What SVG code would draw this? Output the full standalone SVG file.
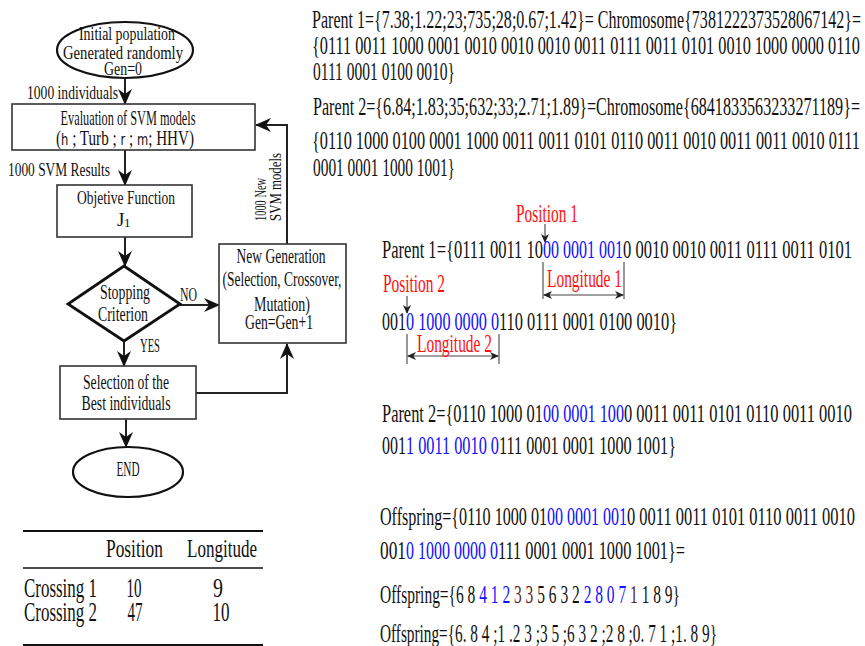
<svg xmlns="http://www.w3.org/2000/svg" width="865" height="646" viewBox="0 0 865 646">
<defs>
<style>
text{font-family:"Liberation Serif","DejaVu Serif",serif;fill:#111}
.fc{font-size:20px}
.fs{font-size:18px}
.big{font-size:26px}
.red{fill:#ff1010}
.blue{fill:#1010ff}
.brown{fill:#5c2424}
.sans{font-family:"DejaVu Sans","Liberation Sans",sans-serif;font-size:16px}
.box{fill:#fff;stroke:#333;stroke-width:1.6}
.ell{fill:#fff;stroke:#111;stroke-width:2.2}
.dia{fill:#fff;stroke:#111;stroke-width:2.8}
.con{fill:none;stroke:#222;stroke-width:2}
.thin{fill:none;stroke:#444;stroke-width:1.1}
.rule{stroke:#111}
</style>
<marker id="ah" markerUnits="userSpaceOnUse" markerWidth="16" markerHeight="14" refX="15" refY="7" orient="auto">
<path d="M0,0 L16,7 L0,14 L5,7 z" fill="#111"/>
</marker>
<marker id="sa" markerUnits="userSpaceOnUse" markerWidth="9" markerHeight="8" refX="8" refY="4" orient="auto-start-reverse">
<path d="M0,0 L9,4 L0,8 L2.5,4 z" fill="#222"/>
</marker>
</defs>
<rect width="865" height="646" fill="#fff"/>

<g id="connectors">
<line class="con" x1="125" y1="78" x2="125" y2="104" marker-end="url(#ah)"/>
<line class="con" x1="125" y1="150" x2="125" y2="185" marker-end="url(#ah)"/>
<line class="con" x1="125" y1="237" x2="125" y2="266" marker-end="url(#ah)"/>
<line class="con" x1="180" y1="305" x2="219" y2="305" marker-end="url(#ah)"/>
<polyline class="con" points="287,244 287,125 256,125" marker-end="url(#ah)"/>
<line class="con" x1="124" y1="341" x2="124" y2="366" marker-end="url(#ah)"/>
<polyline class="con" points="196,393 287,393 287,344" marker-end="url(#ah)"/>
<line class="con" x1="126" y1="419" x2="126" y2="447" marker-end="url(#ah)"/>
<text class="fs" x="27" y="99" textLength="91" lengthAdjust="spacingAndGlyphs">1000 individuals</text>
<text class="fs" x="8" y="176" textLength="102" lengthAdjust="spacingAndGlyphs">1000 SVM Results</text>
<text class="fs" x="180" y="301" textLength="17" lengthAdjust="spacingAndGlyphs">NO</text>
<text class="fs" x="140" y="352" textLength="20" lengthAdjust="spacingAndGlyphs">YES</text>
<text style="font-size:17px" transform="translate(266,221) rotate(-90)" textLength="43" lengthAdjust="spacingAndGlyphs">1000 New</text>
<text style="font-size:17px" transform="translate(281,221) rotate(-90)" textLength="68" lengthAdjust="spacingAndGlyphs">SVM models</text>
</g>

<g id="start">
<ellipse class="ell" cx="125" cy="50" rx="68" ry="28"/>
<text class="fs" x="127" y="40" text-anchor="middle" textLength="96" lengthAdjust="spacingAndGlyphs">Initial population</text>
<text class="fs" x="123" y="59" text-anchor="middle" textLength="120" lengthAdjust="spacingAndGlyphs">Generated randomly</text>
<text class="fs" x="123" y="75" text-anchor="middle" textLength="38" lengthAdjust="spacingAndGlyphs">Gen=0</text>
</g>

<g id="evaluation">
<rect class="box" x="12" y="104" width="243" height="46"/>
<text style="font-size:21px" x="128" y="125" text-anchor="middle" textLength="135" lengthAdjust="spacingAndGlyphs">Evaluation of SVM models</text>
<text style="font-size:21px" x="125" y="145" text-anchor="middle" textLength="138" lengthAdjust="spacingAndGlyphs">(<tspan class="sans">h</tspan> ; Turb ; <tspan class="sans">r</tspan> ; <tspan class="sans">m</tspan>; HHV)</text>
</g>

<g id="objective">
<rect class="box" x="57" y="185" width="135" height="52"/>
<text class="fs" x="126" y="204" text-anchor="middle" textLength="98" lengthAdjust="spacingAndGlyphs">Objetive Function</text>
<text x="117" y="226" style="font-size:19px">J</text>
<text x="124" y="227" style="font-size:13px">1</text>
</g>

<g id="stopping">
<polygon class="dia" points="124,266 180,304 124,341 68,304"/>
<text class="fc" x="125" y="299" text-anchor="middle" textLength="50" lengthAdjust="spacingAndGlyphs">Stopping</text>
<text class="fc" x="123" y="321" text-anchor="middle" textLength="50" lengthAdjust="spacingAndGlyphs">Criterion</text>
</g>

<g id="newgen">
<rect class="box" x="219" y="244" width="127" height="99"/>
<text style="font-size:21px" x="281" y="263" text-anchor="middle" textLength="89" lengthAdjust="spacingAndGlyphs">New Generation</text>
<text style="font-size:21px" x="282" y="286" text-anchor="middle" textLength="119" lengthAdjust="spacingAndGlyphs">(Selection, Crossover,</text>
<text style="font-size:21px" x="282" y="311" text-anchor="middle" textLength="56" lengthAdjust="spacingAndGlyphs">Mutation)</text>
<text style="font-size:21px" x="279" y="329" text-anchor="middle" textLength="68" lengthAdjust="spacingAndGlyphs">Gen=Gen+1</text>
</g>

<g id="selection">
<rect class="box" x="60" y="366" width="136" height="53"/>
<text class="fc" x="126" y="389" text-anchor="middle" textLength="86" lengthAdjust="spacingAndGlyphs">Selection of the</text>
<text class="fc" x="126" y="410" text-anchor="middle" textLength="89" lengthAdjust="spacingAndGlyphs">Best individuals</text>
</g>

<g id="end">
<ellipse class="ell" cx="128" cy="472" rx="55" ry="25"/>
<text class="fc" x="128" y="476" text-anchor="middle" textLength="23" lengthAdjust="spacingAndGlyphs">END</text>
</g>

<g id="table">
<line class="rule" x1="23" y1="531" x2="263" y2="531" stroke-width="2"/>
<line class="rule" x1="23" y1="568" x2="263" y2="568" stroke-width="1.3"/>
<line class="rule" x1="23" y1="645" x2="263" y2="645" stroke-width="2"/>
<text style="font-size:25px" x="134.5" y="557" text-anchor="middle" textLength="57" lengthAdjust="spacingAndGlyphs">Position</text>
<text style="font-size:25px" x="222" y="557" text-anchor="middle" textLength="70" lengthAdjust="spacingAndGlyphs">Longitude</text>
<text style="font-size:28px" x="24" y="597" textLength="73" lengthAdjust="spacingAndGlyphs">Crossing 1</text>
<text style="font-size:28px" x="134" y="597" text-anchor="middle" textLength="15" lengthAdjust="spacingAndGlyphs">10</text>
<text style="font-size:28px" x="218" y="597" text-anchor="middle" textLength="10" lengthAdjust="spacingAndGlyphs">9</text>
<text style="font-size:28px" x="24" y="621" textLength="73" lengthAdjust="spacingAndGlyphs">Crossing 2</text>
<text style="font-size:28px" x="135" y="621" text-anchor="middle" textLength="15" lengthAdjust="spacingAndGlyphs">47</text>
<text style="font-size:28px" x="221" y="621" text-anchor="middle" textLength="17" lengthAdjust="spacingAndGlyphs">10</text>
</g>

<g id="chromosomes">
<text class="big" x="312" y="28" textLength="549" lengthAdjust="spacingAndGlyphs">Parent 1={7.38;1.22;23;735;28;0.67;1.42}= Chromosome{7381222373528067142}=</text>
<text class="big" x="312" y="54" textLength="548" lengthAdjust="spacingAndGlyphs">{0111 0011 1000 0001 0010 0010 0010 0011 0111 0011 0101 0010 1000 0000 0110</text>
<text class="big" x="313" y="80" textLength="142" lengthAdjust="spacingAndGlyphs">0111 0001 0100 0010}</text>
<text class="big" x="313" y="115" textLength="547" lengthAdjust="spacingAndGlyphs">Parent 2={6.84;1.83;35;632;33;2.71;1.89}=Chromosome{6841833563233271189}=</text>
<text class="big" x="312" y="149" textLength="548" lengthAdjust="spacingAndGlyphs">{0110 1000 0100 0001 1000 0011 0011 0101 0110 0011 0010 0011 0011 0010 0111</text>
<text class="big" x="313" y="176" textLength="142" lengthAdjust="spacingAndGlyphs">0001 0001 1000 1001}</text>
</g>

<g id="crossover-parent1">
<text class="big red" x="516" y="222" textLength="62" lengthAdjust="spacingAndGlyphs">Position 1</text>
<line class="thin" x1="545" y1="224" x2="545" y2="242" marker-end="url(#sa)"/>
<text class="big" x="382" y="258" textLength="161" lengthAdjust="spacingAndGlyphs">Parent 1={0111 0011 10</text>
<text class="big blue" x="543" y="258" textLength="80" lengthAdjust="spacingAndGlyphs">00 0001 001</text>
<text class="big" x="623" y="258" textLength="229" lengthAdjust="spacingAndGlyphs">0 0010 0010 0011 0111 0011 0101</text>
<line class="thin" x1="543" y1="262" x2="543" y2="299"/>
<line class="thin" x1="624" y1="262" x2="624" y2="299"/>
<line class="thin" x1="544" y1="295" x2="623" y2="295" marker-start="url(#sa)" marker-end="url(#sa)"/>
<text class="big red" x="547" y="287" textLength="75" lengthAdjust="spacingAndGlyphs">Longitude 1</text>
<text class="big red" x="383" y="292" textLength="62" lengthAdjust="spacingAndGlyphs">Position 2</text>
<line class="thin" x1="407" y1="296" x2="407" y2="313" marker-end="url(#sa)"/>
<text class="big" x="382" y="330" textLength="24" lengthAdjust="spacingAndGlyphs">001</text>
<text class="big blue" x="406" y="330" textLength="93" lengthAdjust="spacingAndGlyphs">0 1000 0000 0</text>
<text class="big" x="499" y="330" textLength="178" lengthAdjust="spacingAndGlyphs">110 0111 0001 0100 0010}</text>
<line class="thin" x1="407" y1="334" x2="407" y2="364"/>
<line class="thin" x1="499" y1="334" x2="499" y2="364"/>
<line class="thin" x1="408" y1="356" x2="498" y2="356" marker-start="url(#sa)" marker-end="url(#sa)"/>
<text class="big red" x="417" y="352" textLength="75" lengthAdjust="spacingAndGlyphs">Longitude 2</text>
</g>

<g id="crossover-parent2">
<text class="big" x="382" y="422" textLength="161" lengthAdjust="spacingAndGlyphs">Parent 2={0110 1000 01</text>
<text class="big blue" x="543" y="422" textLength="81" lengthAdjust="spacingAndGlyphs">00 0001 100</text>
<text class="big" x="624" y="422" textLength="228" lengthAdjust="spacingAndGlyphs">0 0011 0011 0101 0110 0011 0010</text>
<text class="big" x="382" y="454" textLength="24" lengthAdjust="spacingAndGlyphs">001</text>
<text class="big blue" x="406" y="454" textLength="93" lengthAdjust="spacingAndGlyphs">1 0011 0010 0</text>
<text class="big" x="499" y="454" textLength="177" lengthAdjust="spacingAndGlyphs">111 0001 0001 1000 1001}</text>
</g>

<g id="offspring">
<text class="big" x="380" y="525" textLength="167" lengthAdjust="spacingAndGlyphs">Offspring={0110 1000 01</text>
<text class="big blue" x="547" y="525" textLength="80" lengthAdjust="spacingAndGlyphs">00 0001 001</text>
<text class="big" x="627" y="525" textLength="228" lengthAdjust="spacingAndGlyphs">0 0011 0011 0101 0110 0011 0010</text>
<text class="big" x="380" y="559" textLength="26" lengthAdjust="spacingAndGlyphs">001</text>
<text class="big blue" x="406" y="559" textLength="92" lengthAdjust="spacingAndGlyphs">0 1000 0000 0</text>
<text class="big" x="498" y="559" textLength="187" lengthAdjust="spacingAndGlyphs">111 0001 0001 1000 1001}=</text>
<text class="big" x="380" y="603" textLength="300" lengthAdjust="spacingAndGlyphs">Offspring={6 8 <tspan class="blue">4 1 2</tspan> <tspan class="brown">3 3</tspan> 5 6 3 2 <tspan class="blue">2 8 0 7</tspan> <tspan class="brown">1</tspan> 1 8 9}</text>
<text class="big" x="380" y="642" textLength="337" lengthAdjust="spacingAndGlyphs">Offspring={6. 8 4 ;1 .2 3 ;3 5 ;6 3 2 ;2 8 ;0. 7 1 ;1. 8 9}</text>
</g>
</svg>
